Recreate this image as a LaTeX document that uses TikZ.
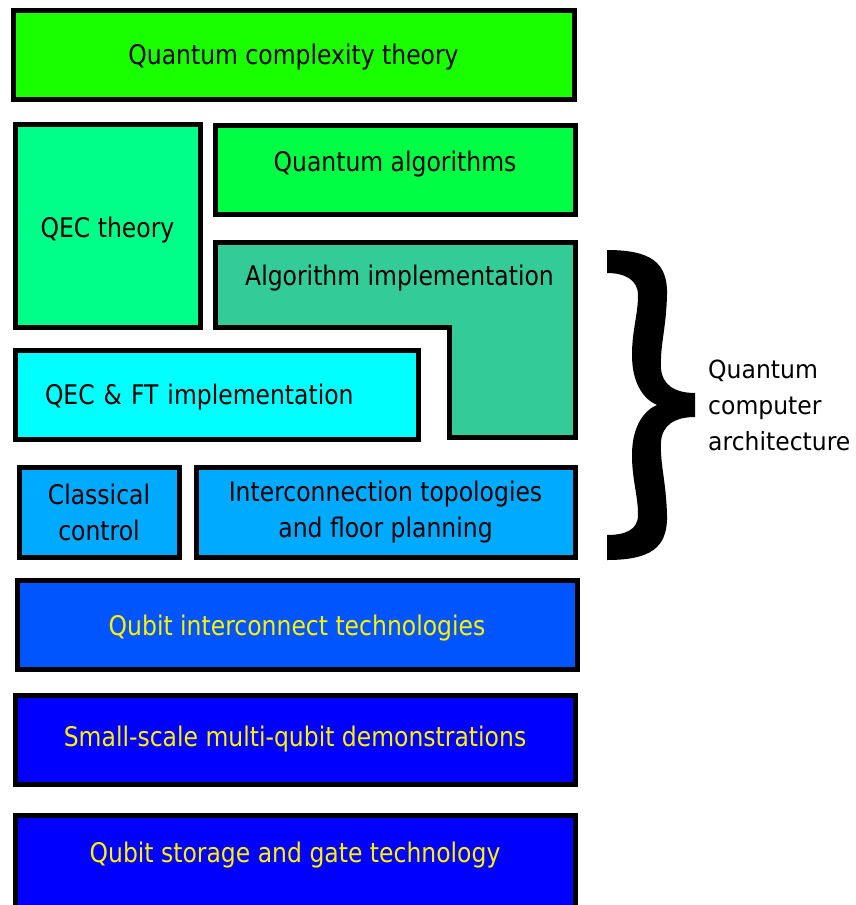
\documentclass[tikz,border=0pt]{standalone}
\usepackage{fontspec}
\setmainfont{DejaVu Sans}
\newfontfamily\boxfont[FakeStretch=0.87]{DejaVu Sans}
\newfontfamily\sidefont[FakeStretch=0.94]{DejaVu Sans}
\usetikzlibrary{positioning}
\definecolor{complexgreen}{HTML}{1AFF00}
\definecolor{algogreen}{HTML}{00FF44}
\definecolor{qecgreen}{HTML}{00FF88}
\definecolor{implteal}{HTML}{33CC99}
\definecolor{ftcyan}{HTML}{00FFFF}
\definecolor{archblue}{HTML}{00AAFF}
\definecolor{linkblue}{HTML}{0055FF}
\definecolor{deepblue}{HTML}{0000FF}
\tikzstyle{layer}=[
	rectangle,
	draw=black,
	line width=5pt,
	inner sep=0pt,
	align=center,
	font=\boxfont\fontsize{27}{36}\selectfont
]
\tikzstyle{hwlayer}=[
	layer,
	text=yellow
]
\tikzstyle{archtext}=[
	align=left,
	inner sep=0pt,
	font=\sidefont\fontsize{25}{36}\selectfont
]

\begin{document}
\begin{tikzpicture}[x=1pt,y=-1pt]
\useasboundingbox (0,0) rectangle (856,905);
% theory layers
\node [layer, fill=complexgreen, minimum width=561, minimum height=89, text height=26pt] (complexity) at (293.5,54.5) {Quantum complexity theory};
\node [layer, fill=qecgreen, minimum width=185, minimum height=203, text height=30pt] (qectheory) at (107.5,225.5) {QEC theory};
\node [layer, fill=algogreen, minimum width=360, minimum height=89, text depth=17pt] (algorithms) at (395,169.5) {Quantum algorithms};
% L-shaped implementation block
\draw [line width=5pt, fill=implteal] (215,242) -- (575,242) -- (575,437) -- (449,437) -- (449,327) -- (215,327) -- cycle;
\node [inner sep=0pt, font=\boxfont\fontsize{27}{36}\selectfont] (algimpl) at (399.5,278) {Algorithm implementation};
\node [layer, fill=ftcyan, minimum width=403, minimum height=89, text width=343, inner xsep=30pt, align=left, text height=26pt] (qecft) at (216.5,394.5) {QEC \& FT implementation};
% architecture
\node [layer, fill=archblue, minimum width=160, minimum height=90] (control) at (99,512) {Classical\\control};
\node [layer, fill=archblue, minimum width=379, minimum height=90] (topologies) at (385.5,512) {Interconnection topologies\\and floor planning};
% hardware layers
\node [hwlayer, fill=linkblue, minimum width=560, minimum height=89, text height=27pt] (interconnect) at (297,624.5) {Qubit interconnect technologies};
\node [hwlayer, fill=deepblue, minimum width=560, minimum height=89] (smallscale) at (295,739.5) {Small-scale multi-qubit demonstrations};
\node [hwlayer, fill=deepblue, minimum width=560, minimum height=96, text depth=22pt] (storage) at (295,863) {Qubit storage and gate technology};
% brace
\fill (607,250) .. controls (650,250) and (668,262) .. (667,295)
	.. controls (666,330) and (660,345) .. (661,368)
	.. controls (662,385) and (675,393) .. (695,393)
	-- (695,417)
	.. controls (675,417) and (662,425) .. (661,442)
	.. controls (660,465) and (666,480) .. (667,515)
	.. controls (668,548) and (650,560) .. (607,560)
	-- (607,535)
	.. controls (625,535) and (638,530) .. (638,515)
	.. controls (638,495) and (632,480) .. (632,455)
	.. controls (632,425) and (645,410) .. (657,405)
	.. controls (645,400) and (632,385) .. (632,355)
	.. controls (632,330) and (638,315) .. (638,295)
	.. controls (638,280) and (625,273) .. (607,273)
	-- cycle;
\coordinate (bracetip) at (695,405);
\node [archtext, right=13pt of bracetip] (architecture) {Quantum\\computer\\architecture};
\end{tikzpicture}
\end{document}
